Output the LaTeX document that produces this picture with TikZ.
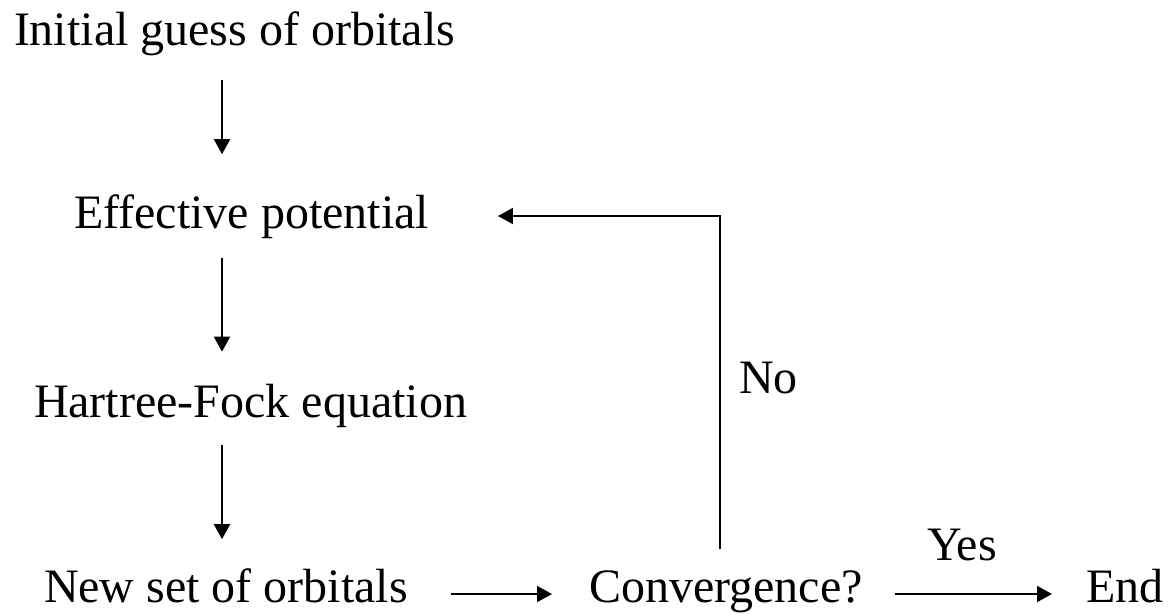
\documentclass[tikz,border=0pt]{standalone}
\usepackage{fontspec}
\setmainfont{Liberation Serif}
\usetikzlibrary{arrows.meta,calc}
\begin{document}
\begin{tikzpicture}[x=1pt,y=-1pt,
  lbl/.style={inner sep=0pt,outer sep=0pt,anchor=base west,font=\fontsize{48}{58}\selectfont},
  arr/.style={line width=2pt,-{Triangle[length=15pt,width=16pt]}},
  ln/.style={line width=2pt}]
\useasboundingbox (0,0) rectangle (1169,613);
\node[lbl] (init) at (14,45) {Initial guess of orbitals};
\node[lbl] (eff) at (74,228) {Effective potential};
\node[lbl] (hf) at (34,417) {Hartree-Fock equation};
\node[lbl] (new) at (44,602) {New set of orbitals};
\node[lbl] (conv) at (589,602) {Convergence?};
\node[lbl] (end) at (1086,602) {End};
\node[lbl] (no) at (739,393) {No};
\node[lbl] (yes) at (927,560) {Yes};
\coordinate (axis) at (222,0);
\coordinate (fb) at (720,216);
\draw[arr] ([yshift=-25pt]init.south -| axis) -- ([yshift=40pt]eff.north -| axis);
\draw[arr] ([yshift=-20pt]eff.south -| axis) -- ([yshift=32pt]hf.north -| axis);
\draw[arr] ([yshift=-18pt]hf.south -| axis) -- ([yshift=29pt]new.north -| axis);
\draw[arr] ([shift={(43pt,8pt)}]new.base east) -- ([shift={(-37pt,8pt)}]conv.base west);
\draw[arr] ([shift={(32pt,8pt)}]conv.base east) -- ([shift={(-34pt,8pt)}]end.base west);
\draw[arr] ([yshift=21pt]conv.north -| fb) -- (fb) -- ([xshift=69pt]eff.east |- fb);
\end{tikzpicture}
\end{document}
